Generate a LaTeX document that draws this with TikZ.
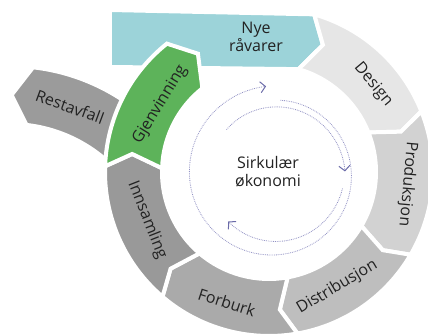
\documentclass[tikz,border=0pt]{standalone}
\usepackage{fontspec}
\setmainfont{Open Sans}
\usetikzlibrary{arrows.meta,calc}

\definecolor{cyanband}{HTML}{9CD3D9}
\definecolor{designgray}{HTML}{E6E6E6}
\definecolor{prodgray}{HTML}{D2D2D2}
\definecolor{distrgray}{HTML}{BEBEBE}
\definecolor{forbgray}{HTML}{AAAAAA}
\definecolor{innsgray}{HTML}{999999}
\definecolor{restgray}{HTML}{9B9B9B}
\definecolor{gjengreen}{HTML}{5DB35A}
\definecolor{flowline}{HTML}{9292C4}
\definecolor{flowtip}{HTML}{6A6AA8}
\definecolor{labeltext}{HTML}{222222}

% ring radii (outer, chevron tip, inner)
\def\rOut{164}
\def\rMid{138}
\def\rIn{107}

% one ring segment: start angle, start notch vertex, end angle, end tip, fill
\newcommand{\ringpiece}[5]{%
  \path[seg, fill=#5] (#1:\rOut) arc[start angle=#1, end angle=#3, radius=\rOut]
    -- (#4:\rMid) -- (#3:\rIn) arc[start angle=#3, end angle=#1, radius=\rIn]
    -- (#2:\rMid) -- cycle;}

\begin{document}
\begin{tikzpicture}[x=1pt, y=1pt,
  seg/.style={draw=white, line width=4pt, line join=miter},
  lbl/.style={font=\fontsize{16}{18}\selectfont, text=labeltext, inner sep=0pt},
  flow/.style={densely dotted, draw=flowline, line width=0.8pt},
  flowhead/.style={-{Straight Barb[length=5pt, width=11pt, line width=1pt, color=flowtip]}}
]
\useasboundingbox (-269,-164) rectangle (159,172);

% side branch: residual waste
\path[seg, fill=restgray, shift={(-259,-98)}]
  (83.5:204) -- (89.5:175) -- (83.5:146)
  arc[start angle=83.5, end angle=40, radius=146]
  -- (40:204) arc[start angle=40, end angle=83.5, radius=204] -- cycle;

% raw material band entering the loop
\path[seg, fill=cyanband] (-159,162) -- (74:\rOut) -- (67:\rMid) -- (74:\rIn) -- (-159,105) -- cycle;

% the circular loop
\ringpiece{74}{67}{21.7}{17}{designgray}
\ringpiece{21.7}{17}{-30.3}{-34.5}{prodgray}
\ringpiece{-30.3}{-34.5}{-80}{-85.5}{distrgray}
\ringpiece{-80}{-85.5}{-130.5}{-135.5}{forbgray}
\ringpiece{-130.5}{-135.5}{-182}{-187.5}{innsgray}
\ringpiece{178}{172.5}{128.5}{121}{gjengreen}

% labels
\node[lbl] (nye) at (-13,135) [align=center] {Nye\\råvarer};
\node[lbl, rotate=-50] (design) at (40:136) {Design};
\node[lbl, rotate=-95] (prod) at (-5:139) {Produksjon};
\node[lbl, rotate=30.6] (distr) at (-59.4:134) {Distribusjon};
\node[lbl, rotate=-17.9] (forb) at (-107.9:137) {Forburk};
\node[lbl, rotate=-68.5] (inns) at (201.5:131) {Innsamling};
\node[lbl, rotate=58.4] (gjen) at (148.4:128) {Gjenvinning};
\node[lbl, rotate=-20.2] (rest) at ($(-259,-98)+(69.8:174)$) {Restavfall};
\node[lbl, align=center] (core) at (-1,0) {Sirkulær\\økonomi};

% dotted flow arrows around the centre
\begin{scope}[shift={(5,-2)}]
  \draw[flow, flowhead] plot[domain=0:1, samples=90, variable=\t]
    ({85-350*\t}:{74+14*\t});
  \draw[flow, flowhead] plot[domain=0:1, samples=50, variable=\t]
    ({137-135*\t}:{65+6*\t});
  \draw[flow, flowhead] plot[domain=0:1, samples=50, variable=\t]
    ({-12-122*\t}:{70-4*\t});
\end{scope}
\end{tikzpicture}
\end{document}
